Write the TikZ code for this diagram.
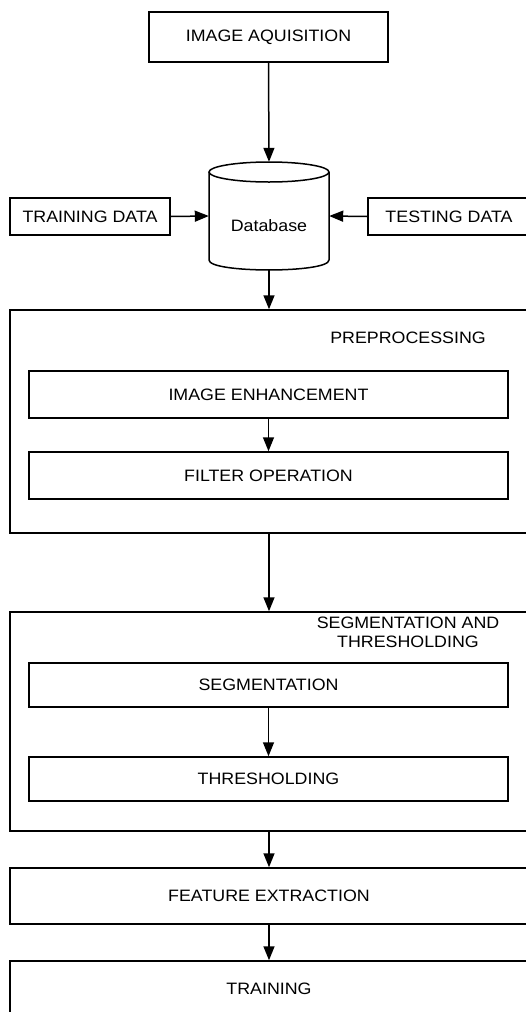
\documentclass[tikz,border=0pt]{standalone}
\usepackage{fontspec}
\setmainfont{Liberation Sans}[FakeStretch=1.08]
\usetikzlibrary{arrows.meta}
\begin{document}
\begin{tikzpicture}[x=1pt,y=-1pt,
  font=\fontsize{16.5}{19}\selectfont,
  box/.style={draw, line width=1.5pt, rectangle, inner sep=0pt, align=center},
  lbl/.style={inner sep=0pt, align=center},
  arr/.style={-{Triangle[length=14pt,width=11pt]}, line width=1.5pt}]
\useasboundingbox (0,0) rectangle (526,1012);

\node[box, minimum width=239pt, minimum height=50pt] (ia) at (268.5,37) {IMAGE AQUISITION};
\node[minimum width=120pt, minimum height=108pt, inner sep=0pt] (db) at (269,216) {};
\draw[line width=1.5pt] (269,172) ellipse [x radius=60pt, y radius=10pt];
\draw[line width=1.5pt] (209,172) -- (209,260) .. controls (209,273.3) and (329,273.3) .. (329,260) -- (329,172);
\node[lbl] (dbt) at (269,226) {Database};

\node[box, minimum width=160pt, minimum height=37pt] (train) at (90,216.5) {TRAINING DATA};
\node[box, minimum width=190pt, minimum height=37pt] (test) at (463,216.5) {\hspace*{-28pt}TESTING DATA};

\node[box, minimum width=560pt, minimum height=223pt] (pre) at (290,421.5) {};
\node[lbl] (prelbl) at (408,338) {PREPROCESSING};
\node[box, minimum width=479pt, minimum height=47pt] (enh) at (268.5,394.5) {IMAGE ENHANCEMENT};
\node[box, minimum width=479pt, minimum height=47pt] (filt) at (268.5,475.5) {FILTER OPERATION};

\node[box, minimum width=560pt, minimum height=219pt] (segc) at (290,721.5) {};
\node[lbl] (seglbl) at (408,632.5) {SEGMENTATION AND\\THRESHOLDING};
\node[box, minimum width=479pt, minimum height=44pt] (segm) at (268.5,685) {SEGMENTATION};
\node[box, minimum width=479pt, minimum height=44pt] (thr) at (268.5,779) {THRESHOLDING};

\node[box, minimum width=560pt, minimum height=56pt] (feat) at (290,896) {};
\node[lbl] (featt) at (269,896) {FEATURE EXTRACTION};
\node[box, minimum width=560pt, minimum height=55pt] (trn) at (290,988.5) {};
\node[lbl] (trnt) at (269,988.5) {TRAINING};

\draw[arr] (ia.south) -- (db.north);
\draw[arr] (train.east) -- (db.west);
\draw[arr] (test.west) -- (db.east);
\draw[arr] (db.south) -- (db.south |- pre.north);
\draw[arr] (enh.south) -- (filt.north);
\draw[arr] (db.south |- pre.south) -- (db.south |- segc.north);
\draw[arr] (segm.south) -- (thr.north);
\draw[arr] (featt |- segc.south) -- (featt |- feat.north);
\draw[arr] (featt |- feat.south) -- (trnt |- trn.north);
\end{tikzpicture}
\end{document}
